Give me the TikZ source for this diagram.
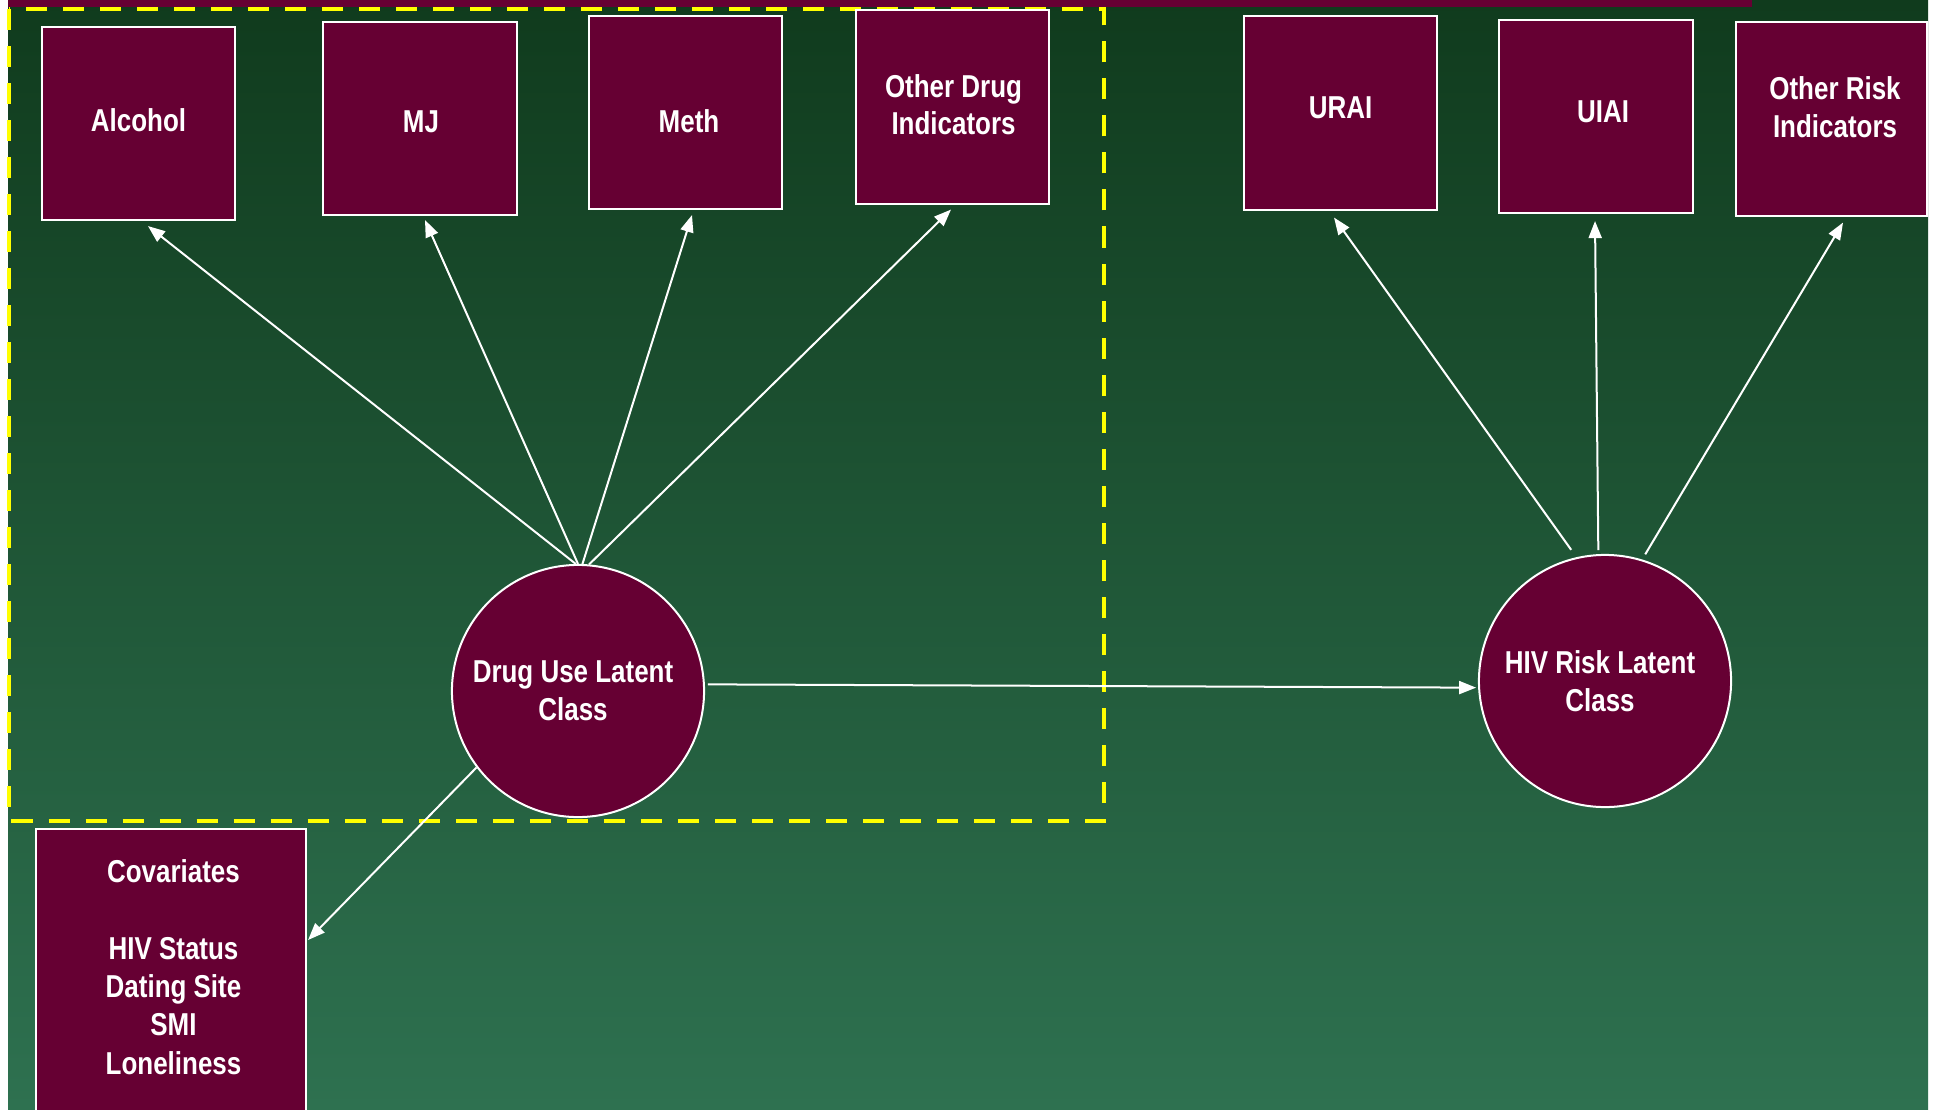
\documentclass[tikz,border=0pt]{standalone}
\usepackage{fontspec}
\IfFontExistsTF{Liberation Sans Narrow}{\setmainfont{Liberation Sans Narrow}}{\setmainfont{Liberation Sans}[FakeStretch=0.82]}
\usetikzlibrary{arrows.meta}

\definecolor{lcamaroon}{HTML}{660033}
\definecolor{bgtop}{HTML}{103B1D}
\definecolor{bgbottom}{HTML}{2E7150}
\definecolor{frameyellow}{HTML}{FFFF00}

\tikzset{indicator/.style={draw=white,fill=lcamaroon,line width=0.02cm,minimum width=1.93cm,minimum height=1.93cm,inner sep=0pt},
latent/.style={circle,draw=white,fill=lcamaroon,line width=0.02cm,minimum size=2.52cm,inner sep=0pt},
boxtext/.style={text=white,align=center,inner sep=0pt,font=\fontsize{9}{10.7}\selectfont\bfseries},
loading/.style={draw=white,line width=0.02cm,-{Triangle[length=0.17cm,width=0.13cm]}},
dashframe/.style={draw=frameyellow,line width=0.045cm,dash pattern=on 0.21cm off 0.16cm}}

\begin{document}
\begin{tikzpicture}[x=0.01cm,y=-0.01cm]
\clip (0,0) rectangle (1937,1109);

%% background
\fill[white] (0,0) rectangle (1937,1109);
\shade[top color=bgtop,bottom color=bgbottom] (8,0) rectangle (1928,1109);
\fill[lcamaroon] (8,0) rectangle (1752,7);
\draw[dashframe] (9,9) rectangle (1104,821);

%% indicator boxes
\node[indicator,label={[boxtext,yshift=0.037cm]center:Alcohol}] (alcohol) at (138.5,123.5) {};
\node[indicator,label={[boxtext,xshift=0.01cm,yshift=-0.037cm]center:MJ}] (mj) at (420,118.5) {};
\node[indicator,label={[boxtext,xshift=0.035cm,yshift=-0.086cm]center:Meth}] (meth) at (685.5,112.5) {};
\node[indicator,label={[boxtext,xshift=0.01cm,yshift=0.025cm]center:Other Drug\\Indicators}] (otherdrug) at (952.5,107) {};
\node[indicator,label={[boxtext,yshift=0.05cm]center:URAI}] (urai) at (1340.5,113) {};
\node[indicator,label={[boxtext,xshift=0.07cm,yshift=0.05cm]center:UIAI}] (uiai) at (1596,116.5) {};
\node[indicator,minimum width=1.91cm,label={[boxtext,xshift=0.035cm,yshift=0.12cm]center:Other Risk\\Indicators}] (otherrisk) at (1831.5,119) {};

%% latent classes
\node[latent,label={[boxtext,xshift=-0.05cm]center:Drug Use Latent\\Class}] (druguse) at (578,691) {};
\node[latent,label={[boxtext,xshift=-0.05cm]center:HIV Risk Latent\\Class}] (hivrisk) at (1605,681) {};

%% covariates
\node[indicator,minimum width=2.7cm,minimum height=2.82cm,label={[boxtext,font=\fontsize{9}{10.9}\selectfont\bfseries,xshift=0.025cm,yshift=0.03cm]center:Covariates\\[0.385cm]HIV Status\\Dating Site\\SMI\\Loneliness}] (covariates) at (171,970) {};

%% loadings
\draw[loading] (druguse.91) -- ([xshift=0.095cm,yshift=-0.05cm]alcohol.south);
\draw[loading] (druguse.90) -- ([xshift=0.05cm,yshift=-0.04cm]mj.south);
\draw[loading] (druguse.88) -- ([xshift=0.065cm,yshift=-0.05cm]meth.south);
\draw[loading] (druguse.85) -- ([xshift=-0.015cm,yshift=-0.05cm]otherdrug.south);
\draw[loading,shorten <=0.09cm] (hivrisk.103) -- ([xshift=-0.065cm,yshift=-0.07cm]urai.south);
\draw[loading,shorten <=0.04cm] (hivrisk.93) -- ([xshift=-0.01cm,yshift=-0.07cm]uiai.south);
\draw[loading,shorten <=0.06cm] (hivrisk.73) -- ([xshift=0.115cm,yshift=-0.06cm]otherrisk.south);

%% regressions
\draw[loading,shorten <=0.03cm,shorten >=0.02cm] (druguse.3) -- (hivrisk.183);
\draw[loading] (druguse.217) -- ([xshift=0.01cm,yshift=0.3cm]covariates.east);

\end{tikzpicture}
\end{document}
